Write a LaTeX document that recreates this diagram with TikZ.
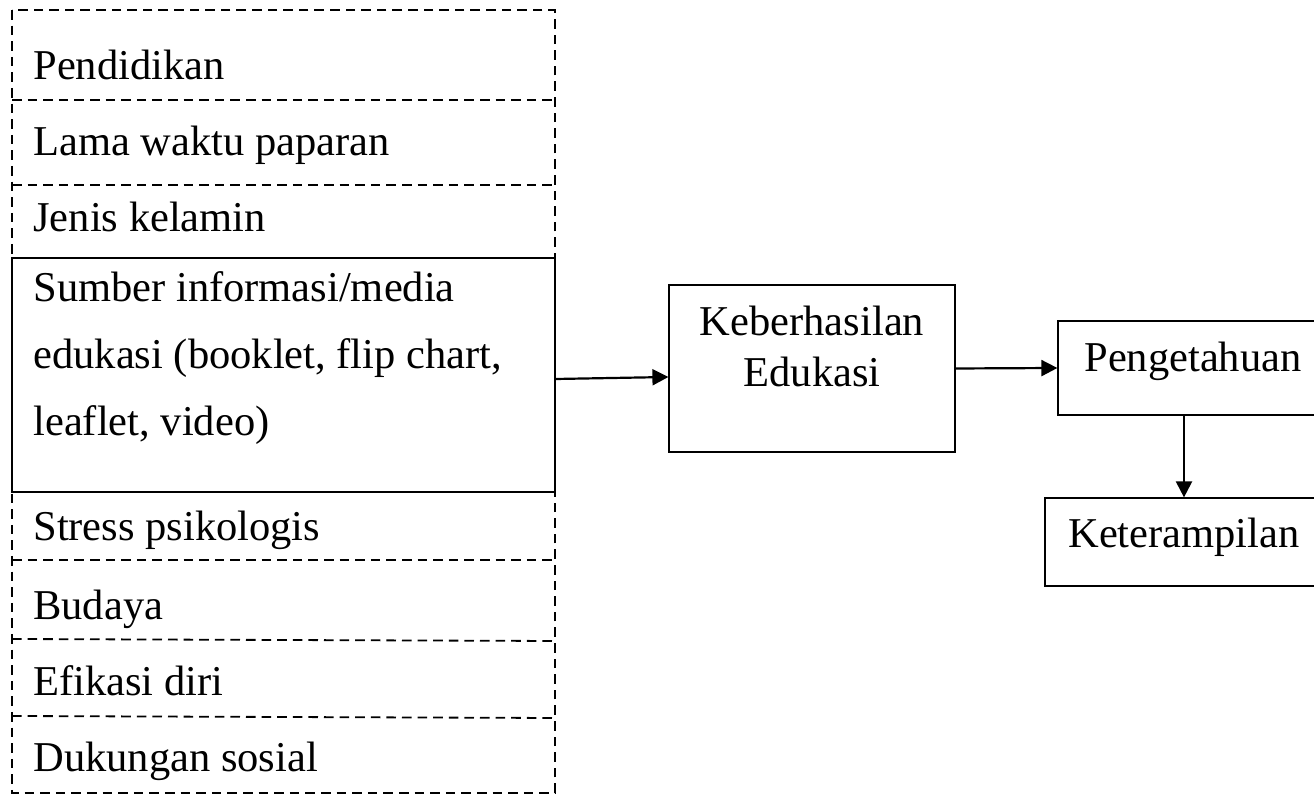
\documentclass[tikz,border=0pt]{standalone}
\usepackage{fontspec}
\setmainfont{Liberation Serif}
\usetikzlibrary{arrows.meta}
\begin{document}
\begin{tikzpicture}[x=0.5pt,y=-0.5pt,
  dashline/.style={line width=0.9pt, dash pattern=on 4.8pt off 3pt},
  solidline/.style={line width=0.9pt},
  lbl/.style={anchor=base west, inner sep=0pt, font=\fontsize{21.25}{25.5}\selectfont},
  rbox/.style={draw, line width=0.6pt, inner sep=0pt, text height=15pt, align=center,
    font=\fontsize{21.25}{25.5}\selectfont},
  arr/.style={line width=1.1pt, -{Triangle[length=8pt,width=8pt]}}]
\useasboundingbox (0,0) rectangle (1314,795);
\clip (0,0) rectangle (1314,795);
% left panel frame
\coordinate (ftl) at (12,10);
\coordinate (fbr) at (555,793);
\draw[dashline] (ftl) rectangle (fbr);
\draw[dashline] (12,100) -- (555,100);
\draw[dashline] (12,185) -- (555,185);
\draw[dashline] (12,560) -- (555,560);
\draw[dashline] (12,639) -- (555,641);
\draw[dashline] (12,716) -- (555,718);
% solid media box
\node[draw, solidline, minimum width=271.5pt, minimum height=117pt, inner sep=0pt]
  (media) at (283.5,375) {};
% left labels
\node[lbl] (pend) at (33,80) {Pendidikan};
\node[lbl] (lama) at (33,156) {Lama waktu paparan};
\node[lbl] (jenis) at (33,232) {Jenis kelamin};
\node[inner sep=0pt, anchor=north west, align=left, font=\fontsize{21.25}{33.5}\selectfont]
  (sumber) at (33,271)
  {Sumber informasi/media\\edukasi (booklet, flip chart,\\leaflet, video)};
\node[lbl] (stress) at (33,541) {Stress psikologis};
\node[lbl] (budaya) at (33,620) {Budaya};
\node[lbl] (efikasi) at (33,696) {Efikasi diri};
\node[lbl] (dukungan) at (33,772) {Dukungan sosial};
% right boxes
\node[rbox, minimum width=143pt, minimum height=83.5pt, text height=40.5pt, text depth=22pt]
  (keb) at (812,368.5) {Keberhasilan\\Edukasi};
\node[rbox, minimum width=135pt, minimum height=47pt, text depth=11pt]
  (peng) at (1193,368) {Pengetahuan};
\node[rbox, minimum width=139pt, minimum height=44pt, text depth=9pt]
  (ket) at (1184,542) {Keterampilan};
% connectors
\draw[arr] ([yshift=-2pt]media.east) -- ([yshift=-4.25pt]keb.west);
\draw[arr] (keb.east) -- (peng.west);
\draw[arr] (peng.south -| 1184,0) -- (ket.north);
\end{tikzpicture}
\end{document}
